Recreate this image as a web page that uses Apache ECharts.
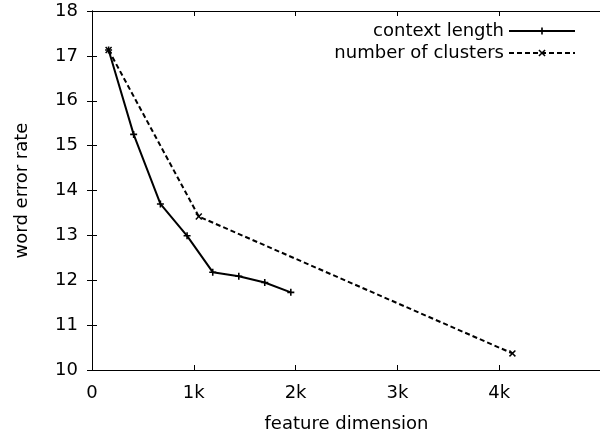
<!DOCTYPE html>
<html>
<head>
<meta charset="utf-8">
<script src="https://cdn.jsdelivr.net/npm/echarts@6/dist/echarts.min.js"></script>
<style>
html,body{margin:0;padding:0;background:#fff;}
#chart{width:600px;height:435px;}
</style>
</head>
<body>
<div id="chart"></div>
<script>
// Data
const contextX = [163, 409, 672, 934, 1186, 1442, 1697, 1953];
const contextY = [17.13, 15.25, 13.70, 12.99, 12.18, 12.09, 11.95, 11.73];
const clustersX = [163, 1049, 4130];
const clustersY = [17.13, 13.42, 10.37];
const seriesNames = ['context length', 'number of clusters'];
const xTickLabels = {0: '0', 1000: '1k', 2000: '2k', 3000: '3k', 4000: '4k', 5000: ''};

const FONT = 'DejaVu Sans';
const FS = 18;
const plusPath = 'path://M-0.9,-4H0.9V-0.9H4V0.9H0.9V4H-0.9V0.9H-4V-0.9H-0.9Z';
const crossPath = 'path://M-4,-2.8L-2.8,-4L0,-1.2L2.8,-4L4,-2.8L1.2,0L4,2.8L2.8,4L0,1.2L-2.8,4L-4,2.8L-1.2,0Z';

function pairs(xs, ys) { return xs.map((x, i) => [x, ys[i]]); }

const chart = echarts.init(document.getElementById('chart'), null, {renderer: 'canvas'});
const axisCommon = {
  axisLine: {show: true, lineStyle: {color: '#000', width: 1}},
  axisTick: {show: true, inside: true, length: 5, lineStyle: {color: '#000', width: 1}},
  splitLine: {show: false}
};
chart.setOption({
  animation: false,
  backgroundColor: '#fff',
  textStyle: {fontFamily: FONT, color: '#000'},
  grid: {left: 92, right: -1, top: 11, bottom: 65, containLabel: false, outerBoundsMode: 'none'},
  legend: {
    orient: 'vertical',
    right: 19,
    top: 17,
    align: 'right',
    itemWidth: 66,
    itemHeight: 9,
    itemGap: 4,
    textStyle: {fontFamily: FONT, fontSize: FS, color: '#000'},
    data: seriesNames
  },
  xAxis: [
    Object.assign({}, axisCommon, {
      type: 'value', min: 0, max: 5000, interval: 1000, position: 'bottom',
      name: 'feature dimension', nameLocation: 'middle', nameGap: 45,
      nameTextStyle: {fontFamily: FONT, fontSize: FS, color: '#000'},
      axisLabel: {show: true, margin: 14, fontFamily: FONT, fontSize: FS, color: '#000',
        formatter: v => (xTickLabels[v] !== undefined ? xTickLabels[v] : '')}
    }),
    Object.assign({}, axisCommon, {
      type: 'value', min: 0, max: 5000, interval: 1000, position: 'top',
      axisLabel: {show: false}
    })
  ],
  yAxis: [
    Object.assign({}, axisCommon, {
      type: 'value', min: 10, max: 18, interval: 1, position: 'left',
      name: 'word error rate', nameLocation: 'middle', nameGap: 61, nameRotate: 90,
      nameTextStyle: {fontFamily: FONT, fontSize: FS, color: '#000'},
      axisLabel: {show: true, margin: 14, fontFamily: FONT, fontSize: FS, color: '#000'}
    }),
    Object.assign({}, axisCommon, {
      type: 'value', min: 10, max: 18, interval: 1, position: 'right',
      axisLabel: {show: false}
    })
  ],
  series: [
    {
      name: seriesNames[0], type: 'line', xAxisIndex: 0, yAxisIndex: 0,
      data: pairs(contextX, contextY),
      symbol: plusPath, symbolSize: 7, showAllSymbol: true,
      lineStyle: {color: '#000', width: 2, type: 'solid'},
      itemStyle: {color: '#000'},
      emphasis: {disabled: true}
    },
    {
      name: seriesNames[1], type: 'line', xAxisIndex: 0, yAxisIndex: 0,
      data: pairs(clustersX, clustersY),
      symbol: crossPath, symbolSize: 7, showAllSymbol: true,
      lineStyle: {color: '#000', width: 2, type: [5, 3]},
      itemStyle: {color: '#000'},
      emphasis: {disabled: true}
    }
  ]
});
</script>
</body>
</html>
